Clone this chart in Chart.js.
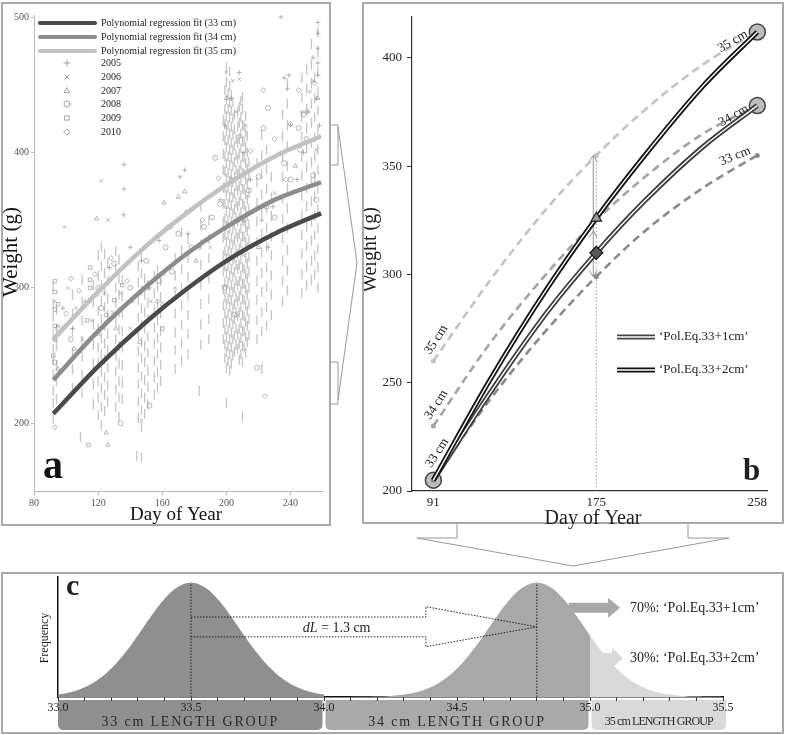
<!DOCTYPE html>
<html>
<head>
<meta charset="utf-8">
<title>Weight by day of year and length group</title>
<script src="https://cdn.jsdelivr.net/npm/chart.js@4.4.1/dist/chart.umd.min.js"></script>
<style>
  body { margin: 0; background: #fff; }
  #wrap { position: relative; width: 785px; height: 735px; overflow: hidden; }
  .frame { position: absolute; box-sizing: border-box; border: 2px solid #a9a9a9; }
  canvas { position: absolute; }
  svg { position: absolute; left: 0; top: 0; }
</style>
</head>
<body>
<div id="wrap">
  <div class="frame" style="left:1px;top:2px;width:330px;height:524px"></div>
  <div class="frame" style="left:362px;top:2px;width:422px;height:522px"></div>
  <div class="frame" style="left:1px;top:572px;width:783px;height:162px"></div>
  <svg width="785" height="735">
    <g fill="none" stroke="#999" stroke-width="1">
      <polyline points="330,125 338,125 338,165 330,165"/>
      <polyline points="338,127 357,263 338,400"/>
      <polyline points="330,362 338,362 338,404 330,404"/>
      <polyline points="457,524 457,538 417,538 573,566 729,538 688,538 688,524"/>
    </g>
  </svg>
  <canvas id="chartA" width="327" height="527" style="left:2px;top:3px"></canvas>
  <canvas id="chartB" width="418" height="526" style="left:364px;top:4px"></canvas>
  <canvas id="chartC" width="780" height="160" style="left:2px;top:574px"></canvas>
</div>
<script>
// ---------- panel a: observations and fits ----------
const daysA = [92, 120, 150, 175, 200, 230, 259];
const fit33 = [207, 242, 275, 299, 320, 340, 355];
const fit34 = [232, 268, 301, 325, 345, 365, 378];
const fit35 = [262, 297, 331, 355, 376, 397, 412];
const fitLabels = ["Polynomial regression fit (33 cm)", "Polynomial regression fit (34 cm)", "Polynomial regression fit (35 cm)"];
const fitColors = ["#4a4a4a", "#8d8d8d", "#c2c2c2"];

const yearLabels = ["2005", "2006", "2007", "2008", "2009", "2010"];
const yearStyles = ["cross", "crossRot", "triangle", "circle", "rect", "rectRot"];

const obs2005 = [[93,262],[98,285],[104,270],[112,290],[122,300],[127,315],[136,391],[136,373],[136,354],[140,330],[147,320],[152,300],[158,335],[163,345],[171,382],[174,387],[176,340],[183,330],[188,310],[196,365],[199,420],[203,440],[208,459],[211,400],[215,380],[222,350],[226,330],[229,360],[234,500],[236,455],[238,447],[239,457],[240,420],[244,380],[248,400],[251,430],[254,470],[256,440],[257,496],[257,488],[257,477],[257,466],[257,457],[258,420]];
const obs2006 = [[93,290],[95,272],[99,345],[101,300],[106,285],[110,262],[116,276],[122,379],[124,296],[126,350],[129,282],[134,296],[140,270],[147,202],[153,290],[161,310],[168,300],[190,330],[200,459],[204,453],[206,430],[208,454],[212,420],[218,390],[230,370],[247,430],[252,445],[254,453],[256,402]];
const obs2007 = [[95,240],[105,255],[119,351],[125,193],[126,184],[131,270],[141,290],[151,300],[160,288],[161,363],[170,367],[174,371],[181,320],[200,440],[203,380],[211,350],[220,330],[243,390],[257,440]];
const obs2008 = [[93,245],[103,262],[120,300],[122,285],[130,318],[134,200],[140,300],[150,320],[152,213],[158,305],[162,330],[166,312],[170,340],[178,330],[186,345],[191,352],[193,396],[196,362],[199,300],[205,280],[214,372],[219,241],[220,382],[223,418],[225,360],[226,433],[230,352],[236,392],[240,380],[245,418],[246,402],[248,428],[250,410],[254,383],[256,365]];
const obs2009 = [[92,250],[93,262],[93,272],[93,284],[93,297],[93,305],[95,288],[113,276],[114,184],[115,291],[115,300],[115,306],[115,315],[120,266],[125,280],[130,291],[135,302],[146,260],[160,270]];
const obs2010 = [[93,197],[95,270],[100,281],[103,307],[108,298],[118,310],[128,322],[138,305],[150,331],[157,290],[165,345],[175,356],[185,350],[195,381],[208,412],[215,401],[223,446],[224,220],[230,410],[237,380],[240,421],[245,446],[250,430],[255,451]];

// dense sampling days: [day, weights]
const denseObs = [
  [92,[203,215,224,236,247,255,266,279,288,301]],
  [94,[218,231,243,257,270,284]],
  [104,[226,240,252,268,281,295]],
  [109,[190]],
  [110,[222,236,249,261,276,290,306]],
  [117,[214,229,244,258,273,289,302]],
  [120,[206,219,231,245,256,270,283,297,309,324]],
  [122,[199,212,226,238,251,263,277,290,302,316,330]],
  [124,[209,221,234,247,259,272,286,298,311,325]],
  [126,[216,228,241,254,266,280,292,305,318]],
  [131,[212,225,238,250,262,276,289,300,314,327]],
  [133,[205,219,231,244,257,269,282,295,307,321]],
  [135,[218,230,243,256,268,281,294,306]],
  [144,[176]],
  [145,[204,216,229,241,253,266,278,291,304,316]],
  [147,[175,197,210,222,235,248,260,273,285,298,311,323]],
  [149,[207,219,232,245,257,270,282,295,307]],
  [151,[214,227,239,252,264,277,289,302]],
  [155,[221,234,246,259,271,284,296,309]],
  [157,[226,238,251,263,276,288,301,313]],
  [159,[231,243,256,268,281,293,305]],
  [168,[240,254,267,281,295,309,322]],
  [172,[246,259,273,287,300,314,328,341]],
  [176,[251,266,280,294,308,322,336]],
  [183,[224]],
  [184,[258,273,288,302,317,332,346,360]],
  [189,[262,277,292,307,322,336,350]],
  [198,[262,274,287,299,312,324,337,349,362,374,387,399,412,424]],
  [199,[248,258,269,281,293,304,316,327,339,351,362,374,386,397,409,421,432,446]],
  [200,[215,241,253,264,276,288,299,311,322,334,346,357,369,381,392,404,416,427,439,452,463]],
  [201,[246,257,269,281,292,304,316,327,339,350,362,374,385,397,409,420,432,444]],
  [202,[239,251,262,274,286,297,309,321,332,344,356,367,379,391,402,414,426,437,449,460]],
  [203,[244,256,267,279,291,302,314,326,337,349,361,372,384,396,407,419,431,442]],
  [204,[250,262,273,285,297,308,320,332,343,355,367,378,390,402,413,425,437]],
  [205,[253,265,277,288,300,312,323,335,347,358,370,382,393,405,417,428]],
  [206,[258,270,282,293,305,317,328,340,352,363,375,387,398,410]],
  [207,[255,266,279,290,302,314,325,337,349,360,372,384,395,407,419,430]],
  [208,[247,259,270,282,294,305,317,329,340,352,364,375,387,399,410,422,434]],
  [209,[251,263,274,286,298,309,321,333,344,356,368,379,391,403,414,426,438]],
  [210,[205,245,257,268,280,292,303,315,327,338,350,362,373,385,397,408,420,432,441]],
  [211,[256,268,279,291,303,314,326,338,349,361,373,384,396,408,419]],
  [212,[252,264,275,287,299,310,322,334,345,357,369,380,392,404,415,427]],
  [213,[260,272,283,295,307,318,330,342,353,365,377,388,400,412]],
  [214,[265,277,288,300,312,323,335,347,358,370,382,393]],
  [219,[262,276,291,305,320,334,349,363,378,392]],
  [222,[240,268,282,297,311,326,340,355,369,384,398,413]],
  [225,[272,286,301,315,330,344,359,373,388,402]],
  [228,[280,295,309,324,338,353,367,382]],
  [235,[290,305,320,336,351,366,382,397,412,428]],
  [238,[298,313,328,344,359,374,390,405,420,436,451]],
  [247,[296,310,325,339,354,368,383,397,412,426,441,455]],
  [250,[302,316,331,345,360,374,389,403,418,432,447,461]],
  [253,[306,320,335,349,364,378,393,407,422,436,451,465,480]],
  [255,[310,324,339,353,368,382,397,411,426,440,455]],
  [257,[300,315,329,344,358,373,387,402,416,431,445,460,474,489]]
];

// ---------- panel b: growth curves ----------
const daysB = [91, 120, 150, 175, 200, 230, 258];
const curve33 = [205, 242, 275, 299, 320, 340, 355];
const curve34 = [230, 268, 301, 325, 345, 365, 378];
const curve35 = [260, 297, 331, 355, 376, 397, 412];
const polEq1 = [205, 245, 283, 310, 334, 359, 378];
const polEq2 = [205, 251, 294, 326, 355, 387, 412];
const endDays = [91, 258, 258];
const endWeights = [205, 378, 412];
const tickDaysB = [91, 175, 258];
const polLabels = ["\u2018Pol.Eq.33+1cm\u2019", "\u2018Pol.Eq.33+2cm\u2019"];

// ---------- panel c: length distributions ----------
const len33X = [33.0,33.05,33.1,33.15,33.2,33.25,33.3,33.35,33.4,33.45,33.5,33.55,33.6,33.65,33.7,33.75,33.8,33.85,33.9,33.95,34.0];
const len33F = [0.021,0.044,0.085,0.151,0.249,0.381,0.539,0.707,0.857,0.962,1,0.962,0.857,0.707,0.539,0.381,0.249,0.151,0.085,0.044,0.021];
const len34X = [34.0,34.05,34.1,34.15,34.2,34.25,34.3,34.35,34.4,34.45,34.5,34.55,34.6,34.65,34.7,34.75,34.8,34.85,34.9,34.95,35.0];
const len34F = [0.0001,0.0002,0.0005,0.0015,0.0039,0.0094,0.021,0.044,0.085,0.151,0.249,0.381,0.539,0.707,0.857,0.962,1,0.962,0.857,0.707,0.539];
const len35X = [35.0,35.05,35.1,35.15,35.2,35.25,35.3,35.35,35.4,35.45,35.5];
const len35F = [0.539,0.381,0.249,0.151,0.085,0.044,0.021,0.0094,0.0039,0.0015,0.0005];
const lengthTicks = [33.0,33.1,33.2,33.3,33.4,33.5,33.6,33.7,33.8,33.9,34.0,34.1,34.2,34.3,34.4,34.5,34.6,34.7,34.8,34.9,35.0,35.1,35.2,35.3,35.4,35.5];
const lengthLabels = [33.0, 33.5, 34.0, 34.5, 35.0, 35.5];
const groupNames = ["33 cm LENGTH GROUP", "34 cm LENGTH GROUP", "35 cm LENGTH GROUP"];
const groupFrom = [33.0, 34.0, 35.0];
const groupTo = [34.0, 35.0, 35.5];
const groupColors = ["#8f8f8f", "#a9a9a9", "#d9d9d9"];
const shareLabels = ["70%: \u2018Pol.Eq.33+1cm\u2019", "30%: \u2018Pol.Eq.33+2cm\u2019"];

const SERIF = '"Liberation Serif", "Times New Roman", serif';
Chart.defaults.font.family = SERIF;
Chart.defaults.animation = false;
Chart.defaults.responsive = false;
Chart.defaults.devicePixelRatio = 1;
Chart.defaults.events = [];
Chart.defaults.plugins.legend.display = false;
Chart.defaults.plugins.tooltip.enabled = false;

const pts = (xs, ys) => xs.map((x, i) => ({ x: x, y: ys[i] }));
const setTicks = (vals) => (s) => { s.ticks = vals.map(v => ({ value: v })); };

function rotatedText(ctx, text, x, y, angle, font, align) {
  ctx.save();
  ctx.translate(x, y);
  ctx.rotate(angle);
  ctx.font = font;
  ctx.textAlign = align || "center";
  ctx.fillText(text, 0, 0);
  ctx.restore();
}

// ---------- chart a ----------
const fitSets = [fit33, fit34, fit35].map((vals, i) => ({
  label: fitLabels[i],
  data: pts(daysA, vals),
  showLine: true,
  fitLine: true,
  borderColor: fitColors[i],
  borderWidth: 4.5,
  pointRadius: 0,
  cubicInterpolationMode: "monotone",
  order: 0
}));
const yearSets = [obs2005, obs2006, obs2007, obs2008, obs2009, obs2010].map((obs, i) => ({
  label: yearLabels[i],
  data: obs.map(([d, w]) => ({ x: d, y: w })),
  year: true,
  pointStyle: yearStyles[i],
  pointRadius: 2.5,
  borderWidth: 0.8,
  borderColor: "rgba(150,150,150,0.85)",
  backgroundColor: "rgba(0,0,0,0)",
  order: 5
}));
const denseSet = {
  label: "samples",
  data: denseObs.flatMap(([d, ws]) => ws.map(w => ({ x: d, y: w }))),
  pointStyle: "line",
  rotation: 90,
  pointRadius: 5,
  borderWidth: 1.3,
  borderColor: "rgba(95,95,95,0.36)",
  order: 6
};

const panelA = {
  id: "panelA",
  afterDraw(chart) {
    const ctx = chart.ctx, ox = 2, oy = 3;
    const rowsY = [23, 37, 51, 63, 77, 91, 104, 118, 132];
    ctx.save();
    ctx.font = "10px " + SERIF;
    ctx.textBaseline = "middle";
    const fits = chart.data.datasets.filter(d => d.fitLine);
    const years = chart.data.datasets.filter(d => d.year);
    fits.forEach((ds, i) => {
      const y = rowsY[i] - oy;
      ctx.strokeStyle = ds.borderColor;
      ctx.lineWidth = 4;
      ctx.lineCap = "round";
      ctx.beginPath(); ctx.moveTo(40 - ox, y); ctx.lineTo(95 - ox, y); ctx.stroke();
      ctx.fillStyle = "#222";
      ctx.fillText(ds.label, 101 - ox, y);
    });
    years.forEach((ds, i) => {
      const y = rowsY[3 + i] - oy;
      ctx.strokeStyle = "#8a8a8a";
      ctx.fillStyle = "rgba(0,0,0,0)";
      ctx.lineWidth = 0.8;
      Chart.helpers.drawPoint(ctx, { pointStyle: ds.pointStyle, radius: 3, rotation: 0, borderWidth: 0.8 }, 67 - ox, y);
      ctx.fillStyle = "#222";
      ctx.fillText(ds.label, 101 - ox, y);
    });
    ctx.fillStyle = "#111";
    ctx.textBaseline = "alphabetic";
    ctx.font = "bold 40px " + SERIF;
    ctx.textAlign = "left";
    ctx.fillText("a", 43 - ox, 478 - oy);
    ctx.textBaseline = "middle";
    rotatedText(ctx, "Weight (g)", 11 - ox, 252 - oy, -Math.PI / 2, "21px " + SERIF);
    ctx.textBaseline = "alphabetic";
    rotatedText(ctx, "Day of Year", 176 - ox, 520 - oy, 0, "19px " + SERIF);
    ctx.restore();
  }
};

new Chart(document.getElementById("chartA"), {
  type: "scatter",
  data: { datasets: [...fitSets, ...yearSets, denseSet] },
  options: {
    layout: { padding: { top: 12, right: 3, left: 0, bottom: 0 } },
    scales: {
      x: {
        type: "linear", min: 80, max: 260,
        afterBuildTicks: setTicks([80, 120, 160, 200, 240]),
        afterFit: s => { s.height = 39; },
        grid: { drawOnChartArea: false, tickLength: 4, color: "#bbb" },
        border: { color: "#bbb" },
        ticks: { font: { size: 10 }, color: "#555", padding: 2, maxRotation: 0 }
      },
      y: {
        min: 150, max: 501.5,
        afterBuildTicks: setTicks([200, 300, 400, 500]),
        afterFit: s => { s.width = 32; },
        grid: { drawOnChartArea: false, tickLength: 3, color: "#bbb" },
        border: { color: "#bbb" },
        ticks: { font: { size: 10 }, color: "#555", padding: 2 }
      }
    }
  },
  plugins: [panelA]
});

// ---------- chart b ----------
const dashed = (vals, color, radii, label) => ({
  label: label, data: pts(daysB, vals), borderColor: color, backgroundColor: color,
  borderDash: [8, 5], borderWidth: 2.6, pointRadius: radii, pointBorderWidth: 0,
  pointBackgroundColor: color, cubicInterpolationMode: "monotone", order: 6
});
const doubleLine = (vals, outer, order, label) => [
  { label: label, data: pts(daysB, vals), borderColor: outer, borderWidth: 5, pointRadius: 0, cubicInterpolationMode: "monotone", order: order + 1 },
  { label: label, data: pts(daysB, vals), borderColor: "#fff", borderWidth: 1.4, pointRadius: 0, cubicInterpolationMode: "monotone", order: order }
];

const panelB = {
  id: "panelB",
  beforeDatasetsDraw(chart) {
    const ctx = chart.ctx, x = chart.scales.x, y = chart.scales.y;
    const px = x.getPixelForValue(175);
    ctx.save();
    ctx.strokeStyle = "#888";
    ctx.lineWidth = 0.8;
    ctx.setLineDash([1.5, 2]);
    ctx.beginPath(); ctx.moveTo(px, y.getPixelForValue(200)); ctx.lineTo(px, y.getPixelForValue(curve35[3])); ctx.stroke();
    ctx.setLineDash([]);
    const ax = px - 3;
    const yTop = y.getPixelForValue(curve35[3]), yBot = y.getPixelForValue(curve33[3]);
    ctx.strokeStyle = "#777";
    ctx.beginPath(); ctx.moveTo(ax, yTop); ctx.lineTo(ax, yBot); ctx.stroke();
    const chevron = (cy, dir) => {
      ctx.beginPath(); ctx.moveTo(ax - 4, cy + dir * 6); ctx.lineTo(ax, cy); ctx.lineTo(ax + 4, cy + dir * 6); ctx.stroke();
    };
    chevron(yTop, 1);
    chevron(y.getPixelForValue(320), 1);
    chevron(yBot, -1);
    ctx.restore();
  },
  afterDatasetsDraw(chart) {
    const ctx = chart.ctx, x = chart.scales.x, y = chart.scales.y, ox = 364, oy = 4;
    ctx.save();
    ctx.fillStyle = "#222";
    ctx.textBaseline = "alphabetic";
    const f13 = "13px " + SERIF;
    const startLab = [["35 cm", curve35[0], -3, -6], ["34 cm", curve34[0], -3, -6], ["33 cm", curve33[0], -2, -12]];
    startLab.forEach(([t, w, dx, dy]) => {
      rotatedText(ctx, t, x.getPixelForValue(daysB[0]) + dx, y.getPixelForValue(w) + dy, -57 * Math.PI / 180, f13, "left");
    });
    const endLab = [["35 cm", curve35[6], -9, 4, -31], ["34 cm", curve34[6], -8, 5, -30], ["33 cm", curve33[6], -6, -2, -22]];
    endLab.forEach(([t, w, dx, dy, a]) => {
      rotatedText(ctx, t, x.getPixelForValue(daysB[6]) + dx, y.getPixelForValue(w) + dy, a * Math.PI / 180, f13, "right");
    });
    // legend
    const legY = [337 - oy, 370 - oy];
    const legCol = ["#444", "#111"];
    legY.forEach((ly, i) => {
      ctx.strokeStyle = legCol[i]; ctx.lineWidth = 5;
      ctx.beginPath(); ctx.moveTo(617 - ox, ly); ctx.lineTo(655 - ox, ly); ctx.stroke();
      ctx.strokeStyle = "#fff"; ctx.lineWidth = 1.4;
      ctx.beginPath(); ctx.moveTo(617 - ox, ly); ctx.lineTo(655 - ox, ly); ctx.stroke();
      ctx.textBaseline = "middle";
      ctx.font = f13; ctx.textAlign = "left";
      ctx.fillText(polLabels[i], 659 - ox, ly);
    });
    ctx.textBaseline = "alphabetic";
    ctx.font = "bold 31px " + SERIF;
    ctx.textAlign = "left";
    ctx.fillText("b", 743 - ox, 480 - oy);
    ctx.textBaseline = "middle";
    rotatedText(ctx, "Weight (g)", 371 - ox, 250 - oy, -Math.PI / 2, "20px " + SERIF);
    ctx.textBaseline = "alphabetic";
    rotatedText(ctx, "Day of Year", 593 - ox, 524 - oy, 0, "20px " + SERIF);
    ctx.restore();
  }
};

new Chart(document.getElementById("chartB"), {
  type: "line",
  data: {
    datasets: [
      { label: "ends", data: pts(endDays, endWeights), showLine: false, pointRadius: 8, pointBackgroundColor: "#bdbdbd", pointBorderColor: "#444", pointBorderWidth: 1.5, order: 9 },
      dashed(curve35, "#c3c3c3", [2.5, 0, 0, 2.5, 0, 0, 0], "35 cm"),
      dashed(curve34, "#a4a4a4", [2.5, 0, 0, 0, 0, 0, 0], "34 cm"),
      dashed(curve33, "#8a8a8a", [2.5, 0, 0, 2.5, 0, 0, 2.5], "33 cm"),
      ...doubleLine(polEq1, "#3c3c3c", 3, polLabels[0]),
      ...doubleLine(polEq2, "#111", 1, polLabels[1]),
      { label: "marks", data: [{ x: 175, y: polEq2[3] }], showLine: false, pointStyle: "triangle", pointRadius: 6, pointBackgroundColor: "#9a9a9a", pointBorderColor: "#222", pointBorderWidth: 1.2, order: -1 },
      { label: "marks2", data: [{ x: 175, y: polEq1[3] }], showLine: false, pointStyle: "rectRot", pointRadius: 6.5, pointBackgroundColor: "#5a5a5a", pointBorderColor: "#111", pointBorderWidth: 1.2, order: -1 }
    ]
  },
  options: {
    clip: false,
    layout: { padding: { top: 12, right: 15, left: 0, bottom: 0 } },
    scales: {
      x: {
        type: "linear", min: 80, max: 263,
        afterBuildTicks: setTicks(tickDaysB),
        afterFit: s => { s.height = 39; },
        grid: { drawOnChartArea: false, drawTicks: false, color: "#333" },
        border: { color: "#333", width: 1.2 },
        ticks: { font: { size: 13 }, color: "#222", padding: 4, maxRotation: 0 }
      },
      y: {
        min: 200, max: 419,
        afterBuildTicks: setTicks([200, 250, 300, 350, 400]),
        afterFit: s => { s.width = 48; },
        grid: { drawOnChartArea: false, tickLength: 5, color: "#333" },
        border: { color: "#333", width: 1.2 },
        ticks: { font: { size: 13 }, color: "#222", padding: 5 }
      }
    }
  },
  plugins: [panelB]
});

// ---------- chart c ----------
const panelC = {
  id: "panelC",
  beforeDraw(chart) {
    const ctx = chart.ctx, x = chart.scales.x, b = chart.chartArea.bottom;
    ctx.save();
    groupNames.forEach((name, i) => {
      const x1 = x.getPixelForValue(groupFrom[i]) + (i ? 1.5 : 0);
      const x2 = x.getPixelForValue(groupTo[i]) + (i < 2 ? -1.5 : 3);
      ctx.fillStyle = groupColors[i];
      ctx.beginPath();
      if (ctx.roundRect) ctx.roundRect(x1, b + 3, x2 - x1, 30, [0, 0, 5, 5]); else ctx.rect(x1, b + 3, x2 - x1, 30);
      ctx.fill();
      ctx.fillStyle = "#2a2a2a";
      ctx.textAlign = "center";
      ctx.textBaseline = "middle";
      ctx.font = (i < 2 ? "14px " : "12px ") + SERIF;
      ctx.letterSpacing = i < 2 ? "1.8px" : "-0.9px";
      ctx.fillText(name, (x1 + x2) / 2, b + 25);
    });
    ctx.restore();
  },
  afterDraw(chart) {
    const ctx = chart.ctx, x = chart.scales.x, y = chart.scales.y, ox = 2, oy = 574;
    const X = v => x.getPixelForValue(v), Y = v => y.getPixelForValue(v);
    ctx.save();
    ctx.strokeStyle = "#222";
    ctx.lineWidth = 1;
    ctx.setLineDash([1.5, 1.5]);
    [33.5, 34.8].forEach(m => {
      ctx.beginPath(); ctx.moveTo(X(m), Y(0)); ctx.lineTo(X(m), Y(1)); ctx.stroke();
    });
    ctx.beginPath();
    ctx.moveTo(X(33.5), Y(0.70));
    ctx.lineTo(X(34.383), Y(0.70));
    ctx.lineTo(X(34.383), Y(0.79));
    ctx.lineTo(X(34.8), Y(0.614));
    ctx.lineTo(X(34.383), Y(0.44));
    ctx.lineTo(X(34.383), Y(0.526));
    ctx.lineTo(X(33.5), Y(0.526));
    ctx.stroke();
    ctx.setLineDash([]);
    // dL label
    ctx.fillStyle = "#222";
    ctx.textBaseline = "alphabetic";
    ctx.textAlign = "left";
    ctx.font = "italic 14px " + SERIF;
    const tx = X(33.92), ty = Y(0.57);
    ctx.fillText("dL", tx, ty);
    const w = ctx.measureText("dL").width;
    ctx.font = "14px " + SERIF;
    ctx.fillText(" = 1.3 cm", tx + w, ty);
    // block arrows
    const arrow = (x0, xh, xt, yc, color) => {
      ctx.fillStyle = color;
      ctx.beginPath();
      ctx.moveTo(x0, yc - 5); ctx.lineTo(xh, yc - 5); ctx.lineTo(xh, yc - 10); ctx.lineTo(xt, yc);
      ctx.lineTo(xh, yc + 10); ctx.lineTo(xh, yc + 5); ctx.lineTo(x0, yc + 5); ctx.closePath();
      ctx.fill();
    };
    arrow(X(34.92), X(35.068), X(35.113), Y(0.78), "#a8a8a8");
    arrow(X(35.0), X(35.083), X(35.124), Y(0.342), "#d9d9d9");
    ctx.fillStyle = "#222";
    ctx.textBaseline = "middle";
    ctx.font = "14px " + SERIF;
    ctx.fillText(shareLabels[0], X(35.15), Y(0.78));
    ctx.fillText(shareLabels[1], X(35.15), Y(0.342));
    // panel letter and axis title
    ctx.textBaseline = "alphabetic";
    ctx.font = "bold 30px " + SERIF;
    ctx.fillText("c", 66 - ox, 595 - oy);
    ctx.textBaseline = "middle";
    rotatedText(ctx, "Frequency", 45 - ox, 638 - oy, -Math.PI / 2, "12px " + SERIF);
    ctx.restore();
  }
};

const area = (xs, ys, color) => ({
  data: pts(xs, ys), fill: "origin", backgroundColor: color, borderWidth: 0,
  pointRadius: 0, tension: 0.4
});

new Chart(document.getElementById("chartC"), {
  type: "line",
  data: {
    datasets: [
      area(len35X, len35F, "#d9d9d9"),
      area(len34X, len34F, "#a8a8a8"),
      area(len33X, len33F, "#8f8f8f")
    ]
  },
  options: {
    layout: { padding: { top: 3, right: 59, left: 0, bottom: 0 } },
    scales: {
      x: {
        type: "linear", min: 33, max: 35.5,
        afterBuildTicks: setTicks(lengthTicks),
        afterFit: s => { s.height = 37; },
        grid: { drawOnChartArea: false, tickLength: 4, color: "#333" },
        border: { color: "#111", width: 1.5 },
        ticks: {
          autoSkip: false, maxRotation: 0, font: { size: 12 }, color: "#222", padding: 0,
          callback: v => lengthLabels.some(l => Math.abs(l - v) < 1e-6) ? v.toFixed(1) : ""
        }
      },
      y: {
        min: 0, max: 1.05,
        afterFit: s => { s.width = 56; },
        grid: { display: false },
        border: { color: "#111", width: 1.5 },
        ticks: { display: false }
      }
    }
  },
  plugins: [panelC]
});
</script>
</body>
</html>
